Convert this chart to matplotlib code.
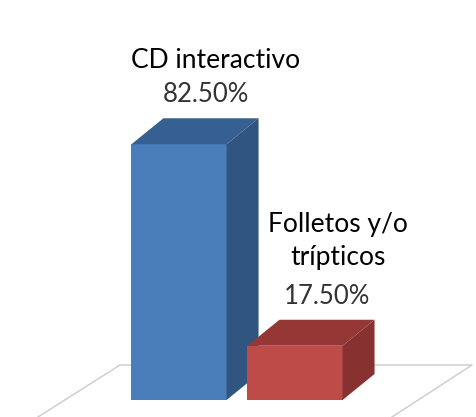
import matplotlib
matplotlib.use("Agg")
import matplotlib.pyplot as plt
from matplotlib.patches import Polygon

categories = ["CD interactivo", "Folletos y/o\ntrípticos"]
values = [82.50, 17.50]
value_labels = ["82.50%", "17.50%"]
front_colors = ["#4a7ebb", "#be4b48"]
top_colors = ["#376092", "#953735"]
side_colors = ["#30557f", "#873230"]

W, H = 477, 417
BASE_PX = 400       # pixel row of the zero line
PX_PER_UNIT = 3.1   # pixels per percentage point
PX_PER_CAT = 116.0  # pixels between bar positions
FIRST_PX = 179.0

bar_w = 0.82
depth_x = 32 / PX_PER_CAT
depth_y = 26 / PX_PER_UNIT

plt.rcParams["font.family"] = ["Lato", "DejaVu Sans"]

fig = plt.figure(figsize=(W / 100, H / 100), dpi=100)
ax = fig.add_axes([0, 0, 1, 1])
ax.set_xlim(-FIRST_PX / PX_PER_CAT, (W - FIRST_PX) / PX_PER_CAT)
ax.set_ylim(-(H - BASE_PX) / PX_PER_UNIT, BASE_PX / PX_PER_UNIT)
ax.axis("off")


def px(x, y):
    # pixel position to data position, y counted from the top
    return ((x - FIRST_PX) / PX_PER_CAT, (BASE_PX - y) / PX_PER_UNIT)


# floor of the 3D chart
floor = [[(38, 417), (120, 365), (472, 365), (392, 417)]]
for pts in floor:
    xs, ys = zip(*[px(*p) for p in pts])
    ax.plot(xs, ys, color="#cfcfcf", lw=1.1, zorder=1, clip_on=False)

for i, v in enumerate(values):
    l, r = i - bar_w / 2, i + bar_w / 2
    ax.add_patch(Polygon([(l, 0), (r, 0), (r, v), (l, v)], fc=front_colors[i], ec="none", zorder=3 + i))
    ax.add_patch(Polygon([(l, v), (r, v), (r + depth_x, v + depth_y), (l + depth_x, v + depth_y)],
                         fc=top_colors[i], ec="none", zorder=3 + i))
    ax.add_patch(Polygon([(r, 0), (r + depth_x, depth_y), (r + depth_x, v + depth_y), (r, v)],
                         fc=side_colors[i], ec="none", zorder=3 + i))

# category names and values sit above each bar
x, y = px(216, 61)
ax.text(x, y, categories[0], ha="center", va="center", fontsize=19, color="black")
x, y = px(206, 95)
ax.text(x, y, value_labels[0], ha="center", va="center", fontsize=18.5, color="#333333")
x, y = px(338, 241)
ax.text(x, y, categories[1], ha="center", va="center", fontsize=19, color="black", linespacing=1.42)
x, y = px(327, 297)
ax.text(x, y, value_labels[1], ha="center", va="center", fontsize=18.5, color="#333333")

fig.savefig("out.png", dpi=100)
